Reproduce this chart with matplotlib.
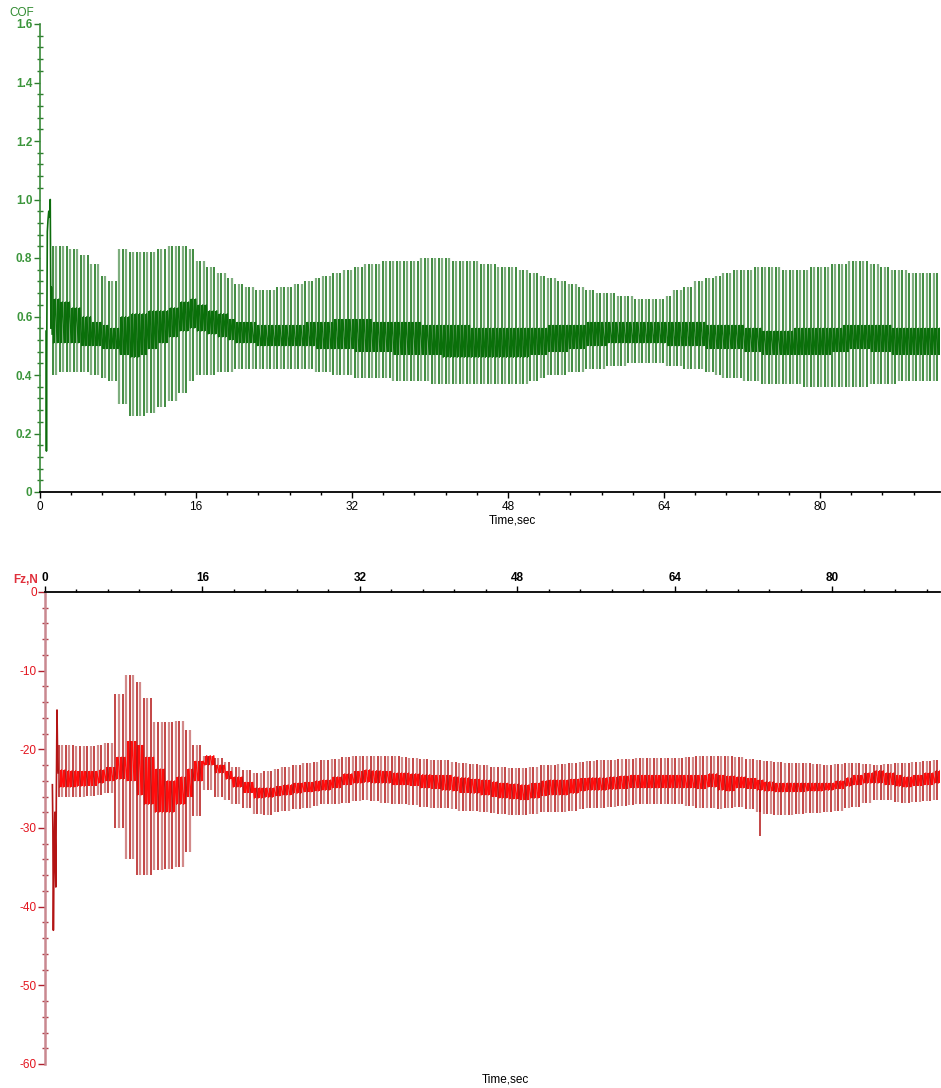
import numpy as np
import matplotlib
matplotlib.use("Agg")
import matplotlib.pyplot as plt
from matplotlib.ticker import MultipleLocator

plt.rcParams['font.family'] = ['Liberation Sans', 'DejaVu Sans']

# ---------------- COF (top panel) ----------------
cof_start_t = [0.62, 0.66, 0.70, 0.75, 0.82, 0.90, 0.98, 1.05, 1.12, 1.18, 1.25]
cof_start_v = [0.55, 0.14, 0.54, 0.89, 0.93, 0.96, 0.94, 1.00, 0.56, 0.70, 0.54]

# envelope values read once per second, t = 1 .. 92 s
cof_hi = [0.84, 0.84, 0.83, 0.81, 0.78, 0.74, 0.72, 0.83, 0.82, 0.82,
          0.82, 0.83, 0.84, 0.84, 0.83, 0.79, 0.77, 0.75, 0.73, 0.71,
          0.70, 0.69, 0.69, 0.70, 0.70, 0.71, 0.72, 0.73, 0.74, 0.75,
          0.76, 0.77, 0.78, 0.78, 0.79, 0.79, 0.79, 0.79, 0.80, 0.80,
          0.80, 0.79, 0.79, 0.79, 0.78, 0.78, 0.77, 0.77, 0.76, 0.75,
          0.74, 0.73, 0.72, 0.71, 0.70, 0.69, 0.68, 0.68, 0.67, 0.67,
          0.66, 0.66, 0.66, 0.67, 0.69, 0.70, 0.72, 0.73, 0.74, 0.75,
          0.76, 0.76, 0.77, 0.77, 0.77, 0.76, 0.76, 0.76, 0.77, 0.77,
          0.78, 0.78, 0.79, 0.79, 0.78, 0.77, 0.76, 0.76, 0.75, 0.75,
          0.75, 0.75]
cof_lo = [0.40, 0.41, 0.41, 0.41, 0.40, 0.39, 0.38, 0.30, 0.26, 0.26,
          0.27, 0.29, 0.31, 0.34, 0.38, 0.40, 0.40, 0.41, 0.41, 0.42,
          0.42, 0.42, 0.42, 0.42, 0.42, 0.42, 0.42, 0.41, 0.41, 0.40,
          0.40, 0.39, 0.39, 0.39, 0.39, 0.38, 0.38, 0.38, 0.38, 0.37,
          0.37, 0.37, 0.37, 0.37, 0.37, 0.37, 0.37, 0.37, 0.37, 0.38,
          0.39, 0.40, 0.40, 0.41, 0.41, 0.42, 0.42, 0.43, 0.43, 0.44,
          0.44, 0.44, 0.44, 0.43, 0.43, 0.42, 0.42, 0.41, 0.40, 0.39,
          0.39, 0.38, 0.38, 0.37, 0.37, 0.37, 0.37, 0.36, 0.36, 0.36,
          0.36, 0.36, 0.36, 0.36, 0.37, 0.37, 0.37, 0.38, 0.38, 0.38,
          0.38, 0.38]
cof_core_hi = [0.66, 0.65, 0.63, 0.60, 0.58, 0.57, 0.56, 0.60, 0.61, 0.61,
               0.62, 0.62, 0.63, 0.65, 0.66, 0.64, 0.62, 0.61, 0.59, 0.58,
               0.58, 0.57, 0.57, 0.57, 0.57, 0.57, 0.58, 0.58, 0.58, 0.59,
               0.59, 0.59, 0.59, 0.58, 0.58, 0.58, 0.58, 0.58, 0.57, 0.57,
               0.57, 0.57, 0.57, 0.56, 0.56, 0.56, 0.56, 0.56, 0.56, 0.56,
               0.56, 0.57, 0.57, 0.57, 0.57, 0.58, 0.58, 0.58, 0.58, 0.58,
               0.58, 0.58, 0.58, 0.58, 0.58, 0.58, 0.58, 0.57, 0.57, 0.57,
               0.57, 0.56, 0.56, 0.55, 0.55, 0.55, 0.56, 0.56, 0.56, 0.56,
               0.56, 0.57, 0.57, 0.57, 0.57, 0.57, 0.56, 0.56, 0.56, 0.56,
               0.56, 0.56]
cof_core_lo = [0.51, 0.51, 0.51, 0.50, 0.50, 0.49, 0.49, 0.47, 0.46, 0.47,
               0.49, 0.51, 0.53, 0.55, 0.56, 0.55, 0.54, 0.53, 0.52, 0.51,
               0.51, 0.50, 0.50, 0.50, 0.50, 0.50, 0.50, 0.49, 0.49, 0.49,
               0.49, 0.48, 0.48, 0.48, 0.48, 0.47, 0.47, 0.47, 0.47, 0.47,
               0.46, 0.46, 0.46, 0.46, 0.46, 0.46, 0.46, 0.46, 0.46, 0.47,
               0.47, 0.48, 0.48, 0.49, 0.49, 0.50, 0.50, 0.51, 0.51, 0.51,
               0.51, 0.51, 0.51, 0.50, 0.50, 0.50, 0.50, 0.49, 0.49, 0.49,
               0.49, 0.48, 0.48, 0.47, 0.47, 0.47, 0.47, 0.47, 0.47, 0.47,
               0.48, 0.48, 0.49, 0.49, 0.48, 0.48, 0.47, 0.47, 0.47, 0.47,
               0.47, 0.47]

# ---------------- Fz (bottom panel) ----------------
fz_start_t = [0.75, 0.80, 0.85, 0.90, 1.00, 1.10, 1.15, 1.22, 1.28, 1.35]
fz_start_v = [-24.5, -30.0, -43.0, -36.5, -28.0, -37.5, -26.0, -15.0, -21.0, -23.0]

# envelope values read once per second, t = 1 .. 91 s
fz_hi = [-19.5, -19.5, -19.6, -19.6, -19.4, -19.2, -13.0, -10.5, -11.5, -13.5,
         -16.5, -16.5, -16.4, -17.5, -19.5, -20.8, -21.1, -21.6, -22.2, -22.6,
         -23.0, -22.8, -22.5, -22.2, -22.0, -21.8, -21.6, -21.4, -21.2, -21.0,
         -20.9, -20.8, -20.8, -20.8, -20.9, -21.0, -21.1, -21.2, -21.3, -21.4,
         -21.6, -21.7, -21.9, -22.0, -22.2, -22.3, -22.4, -22.4, -22.2, -22.0,
         -22.0, -21.9, -21.8, -21.6, -21.5, -21.4, -21.3, -21.2, -21.2, -21.1,
         -21.1, -21.1, -21.1, -21.1, -21.0, -20.9, -20.9, -20.8, -20.9, -21.0,
         -21.2, -21.4, -21.5, -21.6, -21.7, -21.7, -21.8, -21.9, -22.0, -21.9,
         -21.8, -21.7, -21.9, -22.0, -21.9, -21.8, -21.7, -21.6, -21.5, -21.4,
         -21.4]
fz_lo = [-26.0, -26.0, -26.0, -25.9, -25.8, -25.6, -30.0, -34.0, -36.0, -36.0,
         -35.3, -35.2, -35.0, -33.0, -28.5, -25.2, -26.0, -26.5, -26.9, -27.5,
         -28.2, -28.3, -28.0, -27.8, -27.6, -27.4, -27.2, -27.0, -26.9, -26.8,
         -26.6, -26.5, -26.6, -26.8, -26.9, -27.0, -27.1, -27.3, -27.4, -27.5,
         -27.6, -27.8, -27.9, -28.0, -28.1, -28.2, -28.3, -28.3, -28.2, -28.0,
         -28.0, -28.0, -27.8, -27.6, -27.5, -27.5, -27.3, -27.2, -27.1, -27.0,
         -27.0, -27.0, -27.0, -27.0, -27.2, -27.4, -27.5, -27.6, -27.4, -27.3,
         -27.6, -28.0, -28.2, -28.3, -28.3, -28.2, -28.1, -28.1, -28.0, -27.8,
         -27.5, -27.3, -26.8, -26.4, -26.5, -26.7, -26.8, -26.7, -26.6, -26.4,
         -26.4]
fz_core_hi = [-22.6, -22.7, -22.8, -22.8, -22.6, -22.3, -21.0, -19.0, -19.5, -21.0,
              -22.5, -24.0, -23.5, -22.5, -21.5, -20.8, -22.0, -22.8, -23.5, -24.2,
              -24.9, -24.9, -24.7, -24.5, -24.3, -24.2, -24.0, -23.9, -23.5, -23.1,
              -22.8, -22.6, -22.7, -22.8, -23.0, -23.0, -23.1, -23.2, -23.3, -23.3,
              -23.5, -23.6, -23.8, -23.9, -24.1, -24.3, -24.4, -24.5, -24.3, -24.0,
              -23.9, -23.9, -23.8, -23.7, -23.6, -23.6, -23.5, -23.4, -23.3, -23.3,
              -23.3, -23.3, -23.3, -23.3, -23.3, -23.3, -23.1, -23.3, -23.4, -23.5,
              -23.7, -23.9, -24.1, -24.3, -24.3, -24.3, -24.3, -24.3, -24.3, -24.0,
              -23.6, -23.3, -23.0, -22.7, -23.0, -23.3, -23.5, -23.3, -23.0, -22.7,
              -22.6]
fz_core_lo = [-24.8, -24.8, -24.7, -24.6, -24.3, -24.0, -23.8, -24.0, -25.8, -27.0,
              -28.0, -28.0, -27.0, -26.0, -24.0, -22.0, -23.0, -23.8, -24.8, -25.5,
              -26.2, -26.1, -25.9, -25.8, -25.6, -25.4, -25.3, -25.2, -24.9, -24.5,
              -24.3, -24.2, -24.3, -24.3, -24.5, -24.5, -24.6, -24.9, -25.0, -25.2,
              -25.3, -25.5, -25.6, -25.8, -26.0, -26.2, -26.3, -26.4, -26.2, -25.9,
              -25.8, -25.8, -25.6, -25.3, -25.2, -25.2, -25.1, -25.0, -24.9, -24.9,
              -24.9, -24.9, -24.9, -24.9, -24.9, -25.0, -24.8, -25.2, -25.3, -24.9,
              -25.0, -25.2, -25.3, -25.4, -25.4, -25.4, -25.3, -25.3, -25.2, -25.0,
              -24.7, -24.5, -24.3, -24.3, -24.5, -24.7, -24.8, -24.6, -24.5, -24.3,
              -24.3]
fz_spike_t = [72.7]
fz_spike_v = [-31.0]

x_major = [0, 16, 32, 48, 64, 80]
cof_yticks = [0, 0.2, 0.4, 0.6, 0.8, 1.0, 1.2, 1.4, 1.6]
fz_yticks = [0, -10, -20, -30, -40, -50, -60]

STROKE = 0.36


def draw_signal(ax, start_t, start_v, hi, lo, chi, clo, t0, t_end,
                c_dark, c_light, c_core, c_start):
    hi, lo, chi, clo = map(np.asarray, (hi, lo, chi, clo))
    knot_t = np.arange(1, len(hi) + 1)          # one reading per second
    ts = np.arange(t0, t_end, STROKE)           # stroke reversal times
    idx = np.clip(np.searchsorted(knot_t, ts, side='right') - 1, 0, len(hi) - 1)
    light = np.arange(len(ts)) % 2 == 1
    ax.vlines(ts[light], lo[idx][light], hi[idx][light], colors=c_light, lw=1.6, zorder=2)
    ax.vlines(ts[~light], lo[idx][~light], hi[idx][~light], colors=c_dark, lw=1.1, zorder=4)
    # steady-sliding core between reversals: one vertical sweep plus the path joining them
    ax.vlines(ts + 0.18, clo[idx], chi[idx], colors=c_core, lw=1.5, zorder=3)
    ct = np.column_stack([ts + 0.09, ts + 0.27]).ravel()
    cv = np.column_stack([clo[idx], chi[idx]]).ravel()
    ax.plot(ct, cv, color=c_core, lw=0.9, zorder=3)
    ax.plot(start_t, start_v, color=c_start, lw=1.2, zorder=4)


fig = plt.figure(figsize=(9.41, 10.88), dpi=100)
ax1 = fig.add_axes([40 / 941, 1 - 492 / 1088, 900 / 941, 468 / 1088])
ax2 = fig.add_axes([45 / 941, 1 - 1064 / 1088, 895 / 941, 472 / 1088])

# ---- top ----
draw_signal(ax1, cof_start_t, cof_start_v, cof_hi, cof_lo, cof_core_hi, cof_core_lo,
            1.3, 92.3, '#0c6c0c', '#7fae7f', '#0a700a', '#0c6c0c')
ax1.set_xlim(0, 900 / 9.75)
ax1.set_ylim(0, 1.6)
for s in ('top', 'right'):
    ax1.spines[s].set_visible(False)
ax1.spines['left'].set_color('#3a8a3a')
ax1.spines['left'].set_linewidth(1.2)
ax1.spines['bottom'].set_color('black')
ax1.spines['bottom'].set_linewidth(1.3)
ax1.set_yticks(cof_yticks, ['0' if v == 0 else f'{v:.1f}' for v in cof_yticks],
               fontweight='bold')
ax1.yaxis.set_minor_locator(MultipleLocator(0.04))
ax1.set_xticks(x_major, [str(v) for v in x_major])
ax1.xaxis.set_minor_locator(MultipleLocator(3.2))
ax1.tick_params(axis='y', which='major', direction='out', length=4.5, width=1.0,
                color='#2d7d2d', labelcolor='#3c963c', labelsize=8.5, pad=1)
ax1.tick_params(axis='y', which='minor', direction='inout', length=4.5, width=1.0,
                color='#2d7d2d')
ax1.tick_params(axis='x', which='major', direction='out', length=4.5, width=1.0,
                color='black', labelsize=8.5, pad=2)
ax1.tick_params(axis='x', which='minor', direction='out', length=2.5, width=1.0,
                color='black')
fig.text(512 / 941, 1 - 520 / 1088, 'Time,sec', ha='center', va='center', fontsize=8.5)
fig.text(22 / 941, 1 - 13 / 1088, 'COF', ha='center', va='center', fontsize=8.5,
         color='#2f8a2f')

# ---- bottom ----
draw_signal(ax2, fz_start_t, fz_start_v, fz_hi, fz_lo, fz_core_hi, fz_core_lo,
            1.4, 91.0, '#b31414', '#d28a8a', '#ff0c0c', '#b31414')
ax2.vlines(fz_spike_t, -25.0, fz_spike_v, colors='#b31414', lw=1.1, zorder=4)
ax2.set_xlim(0, 895 / 9.84)
ax2.set_ylim(-60, 0)
ax2.xaxis.tick_top()
for s in ('bottom', 'right'):
    ax2.spines[s].set_visible(False)
ax2.spines['left'].set_color('#c98890')
ax2.spines['left'].set_linewidth(1.8)
ax2.spines['top'].set_color('black')
ax2.spines['top'].set_linewidth(1.3)
ax2.set_yticks(fz_yticks, [str(v) for v in fz_yticks])
ax2.yaxis.set_minor_locator(MultipleLocator(2))
ax2.set_xticks(x_major, [str(v) for v in x_major], fontweight='bold')
ax2.xaxis.set_minor_locator(MultipleLocator(3.2))
ax2.tick_params(axis='y', which='major', direction='out', length=5, width=1.0,
                color='#b0202e', labelcolor='#e3141e', labelsize=8.5, pad=1)
ax2.tick_params(axis='y', which='minor', direction='inout', length=4.5, width=1.0,
                color='#b0404a')
ax2.tick_params(axis='x', which='major', direction='out', length=4.5, width=1.0,
                color='black', labelsize=8.5, pad=1.5)
ax2.tick_params(axis='x', which='minor', direction='out', length=2.5, width=1.0,
                color='black')
fig.text(505 / 941, 1 - 1080 / 1088, 'Time,sec', ha='center', va='center', fontsize=8.5)
fig.text(38 / 941, 1 - 580 / 1088, 'Fz,N', ha='right', va='center', fontsize=8.5,
         color='#e0303c', fontweight='bold')

fig.savefig('out.png', dpi=100)
